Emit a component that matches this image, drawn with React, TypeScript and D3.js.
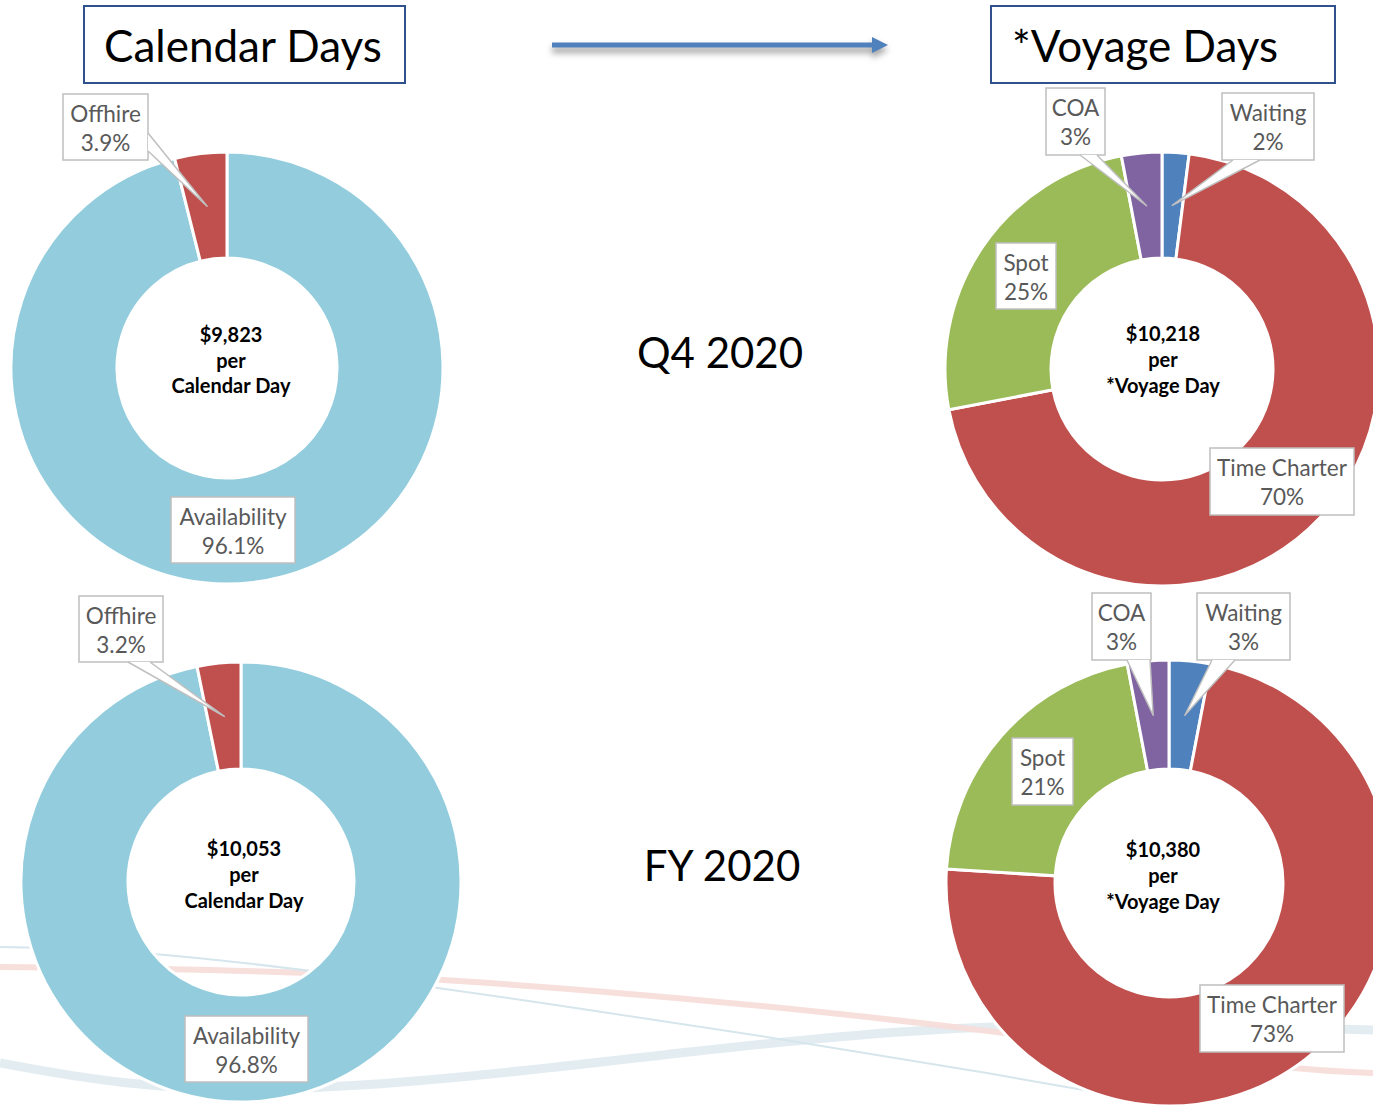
import React, { useEffect, useRef } from 'react';
import * as d3 from 'd3';

// ---- data ----
const calendarCategories = ['Availability', 'Offhire'];
const calendarQ4 = [96.1, 3.9];
const calendarFY = [96.8, 3.2];

const voyageCategories = ['Waiting', 'Time Charter', 'Spot', 'COA'];
const voyageQ4 = [2, 70, 25, 3];
const voyageFY = [3, 73, 21, 3];

const periods = ['Q4 2020', 'FY 2020'];
const calendarRates = ['$9,823', '$10,053'];
const voyageRates = ['$10,218', '$10,380'];

const calendarColors = ['#93cddd', '#c0504d'];
const voyageColors = ['#4f81bd', '#c0504d', '#9bbb59', '#8064a2'];

const W = 1373;
const H = 1105;
const FONT = 'Lato, "Open Sans", sans-serif';

type Box = { box: [number, number, number, number]; base?: [number, number][] };

// layout of the four donuts and their callouts
const donuts = [
  {
    cats: calendarCategories, values: calendarQ4, colors: calendarColors,
    cx: 227, cy: 368, r0: 110, r1: 216, textX: 231, textDy: [-34, -8, 17],
    center: [calendarRates[0], 'per', 'Calendar Day'], fmt: (v: number) => v.toFixed(1) + '%',
    labels: {
      Availability: { box: [171, 497, 124, 66] },
      Offhire: { box: [63, 94, 85, 66], base: [[148, 133], [148, 151]] },
    } as Record<string, Box>,
  },
  {
    cats: calendarCategories, values: calendarFY, colors: calendarColors,
    cx: 241, cy: 882, r0: 113, r1: 220, textX: 244, textDy: [-34, -8, 18],
    center: [calendarRates[1], 'per', 'Calendar Day'], fmt: (v: number) => v.toFixed(1) + '%',
    labels: {
      Availability: { box: [185, 1016, 123, 66] },
      Offhire: { box: [79, 596, 84, 66], base: [[128, 662], [150, 662]] },
    } as Record<string, Box>,
  },
  {
    cats: voyageCategories, values: voyageQ4, colors: voyageColors,
    cx: 1162, cy: 369, r0: 111, r1: 217, textX: 1163, textDy: [-36, -10, 16],
    center: [voyageRates[0], 'per', '*Voyage Day'], fmt: (v: number) => v + '%',
    labels: {
      Waiting: { box: [1222, 93, 92, 67], base: [[1233, 160], [1260, 160]] },
      'Time Charter': { box: [1210, 448, 144, 67] },
      Spot: { box: [996, 243, 60, 66] },
      COA: { box: [1046, 88, 59, 67], base: [[1080, 155], [1097, 155]] },
    } as Record<string, Box>,
  },
  {
    cats: voyageCategories, values: voyageFY, colors: voyageColors,
    cx: 1169, cy: 883, r0: 114, r1: 223, textX: 1163, textDy: [-34, -8, 18],
    center: [voyageRates[1], 'per', '*Voyage Day'], fmt: (v: number) => v + '%',
    labels: {
      Waiting: { box: [1197, 593, 93, 67], base: [[1212, 660], [1235, 660]] },
      'Time Charter': { box: [1200, 985, 144, 67] },
      Spot: { box: [1012, 738, 61, 67] },
      COA: { box: [1092, 593, 59, 67], base: [[1127, 660], [1150, 660]] },
    } as Record<string, Box>,
  },
];

function drawBackground(svg: d3.Selection<SVGSVGElement, unknown, null, undefined>) {
  // faint decorative swooshes behind the bottom row
  const line = d3.line().curve(d3.curveBasis);
  const g = svg.append('g').attr('fill', 'none');
  g.append('path')
    .attr('d', line([[0, 1063], [120, 1085], [260, 1092], [450, 1080], [700, 1050], [900, 1030], [1100, 1022], [1373, 1030]]))
    .attr('stroke', '#dce9ee').attr('stroke-width', 9).attr('opacity', 0.8);
  g.append('path')
    .attr('d', line([[0, 967], [300, 970], [600, 990], [880, 1017], [1140, 1050], [1300, 1070], [1373, 1073]]))
    .attr('stroke', '#f6dcd8').attr('stroke-width', 6).attr('opacity', 0.9);
  g.append('path')
    .attr('d', line([[0, 947], [150, 950], [440, 987], [790, 1040], [1000, 1075], [1140, 1100], [1200, 1110]]))
    .attr('stroke', '#d6e6ec').attr('stroke-width', 2);
}

function drawArrow(svg: d3.Selection<SVGSVGElement, unknown, null, undefined>) {
  const defs = svg.append('defs');
  const f = defs.append('filter').attr('id', 'shadow').attr('x', '-10%').attr('y', '-200%')
    .attr('width', '120%').attr('height', '500%');
  f.append('feGaussianBlur').attr('stdDeviation', 3);

  const y = 45;
  const x0 = 552;
  const x1 = 888;
  const shadow = svg.append('g').attr('filter', 'url(#shadow)').attr('fill', '#8c8c8c').attr('opacity', 0.8);
  shadow.append('rect').attr('x', x0).attr('y', y + 2).attr('width', x1 - x0 - 14).attr('height', 6);
  shadow.append('path').attr('d', `M${x1 - 16},${y - 4} L${x1},${y + 5} L${x1 - 16},${y + 13} Z`);

  svg.append('line').attr('x1', x0).attr('x2', x1 - 14).attr('y1', y).attr('y2', y)
    .attr('stroke', '#4f81bd').attr('stroke-width', 5);
  svg.append('path').attr('d', `M${x1 - 16},${y - 8} L${x1},${y} L${x1 - 16},${y + 8} Z`).attr('fill', '#4f81bd');
}

function drawTitle(svg: d3.Selection<SVGSVGElement, unknown, null, undefined>, text: string, box: number[], tx: number) {
  svg.append('rect').attr('x', box[0]).attr('y', box[1]).attr('width', box[2]).attr('height', box[3])
    .attr('fill', '#fff').attr('stroke', '#2f528f').attr('stroke-width', 2);
  svg.append('text').attr('x', tx).attr('y', box[1] + 56).attr('font-family', FONT).attr('font-size', 44)
    .attr('fill', '#000').text(text);
}

function drawDonut(svg: d3.Selection<SVGSVGElement, unknown, null, undefined>, cfg: typeof donuts[number]) {
  const pie = d3.pie<number>().sort(null).value(d => d);
  const arcs = pie(cfg.values);
  const arc = d3.arc<d3.PieArcDatum<number>>().innerRadius(cfg.r0).outerRadius(cfg.r1);

  const g = svg.append('g').attr('transform', `translate(${cfg.cx},${cfg.cy})`);
  g.selectAll('path.slice')
    .data(arcs)
    .join('path')
    .attr('class', 'slice')
    .attr('d', arc)
    .attr('fill', (d, i) => cfg.colors[i])
    .attr('stroke', '#fff')
    .attr('stroke-width', 3);

  // centre text
  svg.append('g')
    .selectAll('text')
    .data(cfg.center)
    .join('text')
    .attr('x', cfg.textX)
    .attr('y', (d, i) => cfg.cy + cfg.textDy[i])
    .attr('dominant-baseline', 'central')
    .attr('text-anchor', 'middle')
    .attr('font-family', FONT)
    .attr('font-weight', 700)
    .attr('font-size', 20)
    .attr('fill', '#000')
    .text(d => d);

  // callout labels
  arcs.forEach((a, i) => {
    const cat = cfg.cats[i];
    const lab = cfg.labels[cat];
    if (!lab) return;
    const [bx, by, bw, bh] = lab.box;
    const lg = svg.append('g');
    lg.append('rect').attr('x', bx).attr('y', by).attr('width', bw).attr('height', bh)
      .attr('fill', '#fff').attr('stroke', '#bfbfbf').attr('stroke-width', 1.5);
    if (lab.base) {
      const c = arc.centroid(a);
      const tip: [number, number] = [cfg.cx + c[0], cfg.cy + c[1]];
      const [p1, p2] = lab.base;
      lg.append('path').attr('d', `M${p1[0]},${p1[1]} L${tip[0]},${tip[1]} L${p2[0]},${p2[1]} Z`)
        .attr('fill', '#fff');
      lg.append('path').attr('d', `M${p1[0]},${p1[1]} L${tip[0]},${tip[1]} L${p2[0]},${p2[1]}`)
        .attr('fill', 'none').attr('stroke', '#bfbfbf').attr('stroke-width', 1.5).attr('stroke-linejoin', 'round');
    }
    lg.selectAll('text')
      .data([cat, cfg.fmt(a.data)])
      .join('text')
      .attr('x', bx + bw / 2)
      .attr('y', (d, j) => by + 19.5 + j * 29)
      .attr('dominant-baseline', 'central')
      .attr('text-anchor', 'middle')
      .attr('font-family', FONT)
      .attr('font-size', 22.5)
      .attr('fill', '#595959')
      .text(d => d);
  });
}

export default function App() {
  const ref = useRef<SVGSVGElement>(null);

  useEffect(() => {
    if (!ref.current) return;
    const svg = d3.select(ref.current);
    svg.selectAll('*').remove();

    drawBackground(svg);
    drawArrow(svg);
    drawTitle(svg, 'Calendar Days', [84, 6, 321, 77], 104);
    drawTitle(svg, '*Voyage Days', [991, 6, 344, 77], 1012);

    donuts.forEach(d => drawDonut(svg, d));

    svg.append('g')
      .selectAll('text')
      .data(periods)
      .join('text')
      .attr('x', (d, i) => (i === 0 ? 720 : 722))
      .attr('y', (d, i) => (i === 0 ? 352 : 865))
      .attr('dominant-baseline', 'central')
      .attr('text-anchor', 'middle')
      .attr('font-family', FONT)
      .attr('font-size', 42)
      .attr('fill', '#000')
      .text(d => d);
  }, []);

  return (
    <div style={{ position: 'absolute', left: 0, top: 0, width: W, height: H, overflow: 'hidden' }}>
      <svg ref={ref} width={W} height={H} style={{ display: 'block' }} />
    </div>
  );
}
